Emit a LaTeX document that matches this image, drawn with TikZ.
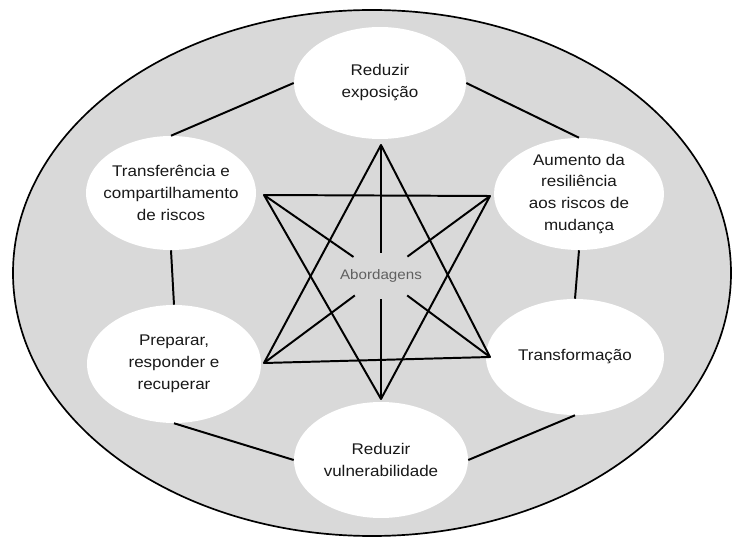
\documentclass[tikz,border=0pt]{standalone}
\usepackage{fontspec}
\usepackage{tikz}
\usetikzlibrary{shapes.geometric}
\newfontfamily\diagramFont[FakeStretch=1.1]{Liberation Sans}
\tikzstyle{diagram} = [x = .025cm, y = -.025cm]
\definecolor{outerColor}{RGB}{217,217,217}
\definecolor{textColor}{RGB}{25,25,25}
\definecolor{hubColor}{RGB}{95,95,95}
\newcommand{\px}{.025cm}
\tikzstyle{outerStyle} = [draw=black, fill=outerColor, line width=1.2pt]
\tikzstyle{approachStyle} = [ellipse, fill=white, inner sep=0pt]
\tikzstyle{approachText} = [align=center, text=textColor, font=\diagramFont\fontsize{11}{15.6}\selectfont]
\tikzstyle{linkLine} = [color=black, line width=1.4pt, line join=round]
\tikzstyle{hubStyle} = [ellipse, inner sep=0pt, minimum width=100*\px, minimum height=45*\px]
\tikzstyle{hubText} = [text=hubColor, font=\diagramFont\fontsize{9.8}{11}\selectfont]
\newcommand{\approach}[6]{\node [approachStyle, minimum width=#4*\px, minimum height=#5*\px, label={[approachText]center:{#6}}] (#1) at (#2, #3) {};}

\begin{document}
\begin{tikzpicture}[diagram]
\useasboundingbox (0,0) rectangle (732,537);
\draw [outerStyle] (372,273) ellipse [x radius=359*\px, y radius=263*\px];
% approaches
\approach{expo}{380}{83}{172}{112}{Reduzir\\exposição}
\approach{trans}{171}{193}{170}{114}{Transferência e\\compartilhamento\\de riscos}
\approach{resil}{579}{194}{170}{112}{Aumento da\\resiliência\\aos riscos de\\mudança}
\approach{prep}{174}{364}{174}{118}{Preparar,\\responder e\\recuperar}
\approach{transf}{575}{357}{178}{116}{Transformação}
\approach{vuln}{381}{460}{174}{116}{Reduzir\\vulnerabilidade}
\foreach \fromNode/\toNode in {trans.north/expo.west, expo.east/resil.north, trans.south/prep.north, resil.south/transf.north, prep.south/vuln.west, vuln.east/transf.south} {
  \draw [linkLine] (\fromNode) -- (\toNode);
}
% star
\node [hubStyle, label={[hubText]center:Abordagens}] (hub) at (381,276) {};
\coordinate (starTop) at (381,145);
\coordinate (starUL) at (264,195);
\coordinate (starUR) at (490,196);
\coordinate (starLL) at (264,363);
\coordinate (starLR) at (490,357);
\coordinate (starBot) at (381,399);
\draw [linkLine] (starTop) -- (starLL) -- (starLR) -- cycle;
\draw [linkLine] (starUL) -- (starUR) -- (starBot) -- cycle;
\foreach \corner in {starTop,starUL,starUR,starLL,starLR,starBot} {
  \draw [linkLine] (\corner) -- (hub);
}
\end{tikzpicture}
\end{document}
